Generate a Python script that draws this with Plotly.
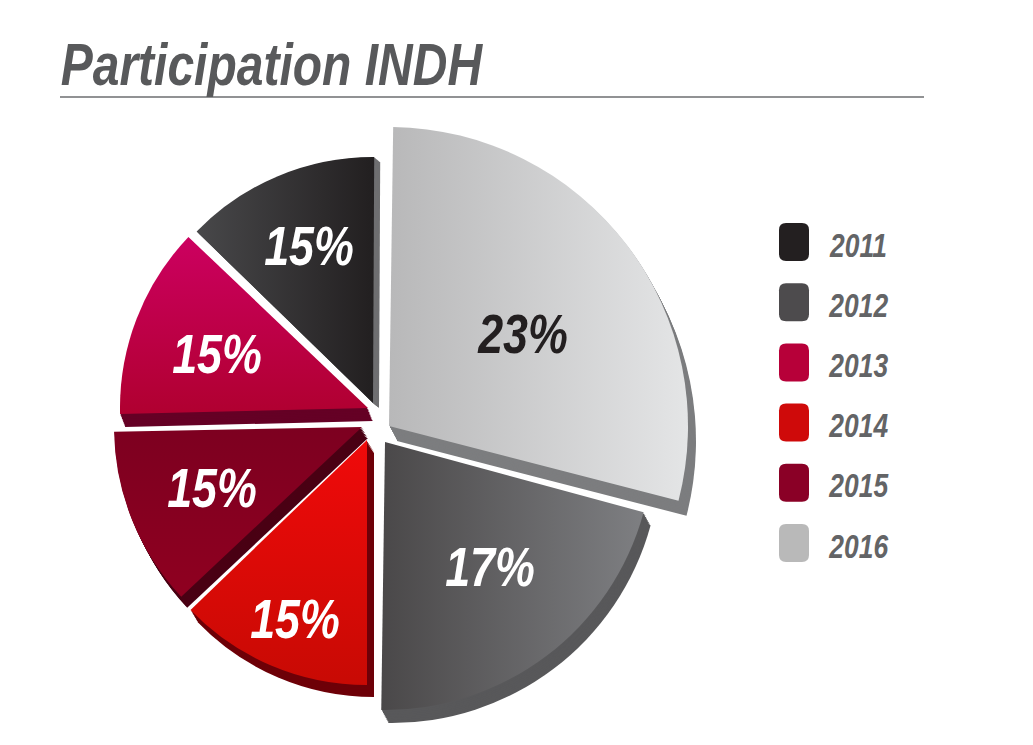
import json
import plotly.graph_objects as go

W, H = 1033, 745
FONT = "Liberation Sans"
NARROW = 0.8  # the reference type is condensed; installed fonts are not

# Data, listed clockwise from the top of the pie
years = ["2016", "2012", "2014", "2015", "2013", "2011"]
printed_percent = ["23%", "17%", "15%", "15%", "15%", "15%"]   # text printed on the slices
drawn_share = [28.8, 21.0, 12.8, 11.7, 12.5, 12.8]             # share of the circle as actually drawn

# Styling and placement, by slice
face_from = ["#b8b8b9", "#4a4849", "#f00a0a", "#7d0020", "#cc0060", "#48484a"]
face_to = ["#e4e5e6", "#7e7f82", "#c80a04", "#8f0020", "#b00030", "#221f20"]
face_dir = ["h", "h", "v", "v", "v", "h"]
side_colors = ["#7c7d7f", "#58585a", "#6e0008", "#4a0014", "#650025", "#6f6f71"]
label_colors = ["#231f20", "white", "white", "white", "white", "white"]
start_angle = [0.8, 105.2, 180.0, 226.8, 268.6, 314.2]
center_x = [389, 385, 367, 362, 368, 373]
center_y = [426, 442, 440, 427, 408, 403]
radius = [299, 268, 245, 248, 248, 246]
depth_x = [8, 7, 7, 6, 5, 6]
depth_y = [15, 13, 12, 11, 13, 5]
label_x = [522, 490, 295, 212, 217, 309]
label_y = [334, 566, 618, 487, 353, 245]

legend_years = ["2011", "2012", "2013", "2014", "2015", "2016"]
legend_colors = ["#231f20", "#4d4b4d", "#b70039", "#cf0a0a", "#8a0026", "#b9b9b9"]


def px_x(x):
    return x / W


def px_y(y):
    return 1 - y / H


def wedge(i, dx, dy, color):
    cx, cy, r = center_x[i] + dx, center_y[i] + dy, radius[i]
    return go.Pie(
        values=[drawn_share[i], 100 - drawn_share[i]],
        labels=[years[i], "rest"],
        sort=False,
        direction="clockwise",
        rotation=start_angle[i],
        textinfo="none",
        hoverinfo="skip",
        showlegend=False,
        marker=dict(colors=[color, "rgba(0,0,0,0)"], line=dict(width=0)),
        domain=dict(x=[px_x(cx - r), px_x(cx + r)], y=[px_y(cy + r), px_y(cy - r)]),
    )


fig = go.Figure()
STEPS = 8
for i in range(len(years)):
    for s in range(STEPS, 0, -1):
        fig.add_trace(wedge(i, depth_x[i] * s / STEPS, depth_y[i] * s / STEPS, side_colors[i]))
for i in range(len(years)):
    fig.add_trace(wedge(i, 0, 0, face_to[i]))


def note(x, y, text, size, color):
    return dict(x=px_x(x), y=px_y(y), xref="paper", yref="paper", xanchor="center", yanchor="middle",
                showarrow=False, text=text,
                font=dict(family=FONT, size=size, color=color, weight="bold", style="italic"))


annotations = [note(271.5, 64, "Participation INDH", 60, "#58595b")]
for i in range(len(years)):
    annotations.append(note(label_x[i], label_y[i], printed_percent[i], 56, label_colors[i]))

shapes = [dict(type="line", xref="paper", yref="paper", x0=px_x(60), x1=px_x(924),
               y0=px_y(97), y1=px_y(97), line=dict(color="#6d6e70", width=1.5))]


def rounded(x0, y0, x1, y1, c=7):
    return (f"M {px_x(x0 + c)} {px_y(y0)} L {px_x(x1 - c)} {px_y(y0)} "
            f"Q {px_x(x1)} {px_y(y0)} {px_x(x1)} {px_y(y0 + c)} L {px_x(x1)} {px_y(y1 - c)} "
            f"Q {px_x(x1)} {px_y(y1)} {px_x(x1 - c)} {px_y(y1)} L {px_x(x0 + c)} {px_y(y1)} "
            f"Q {px_x(x0)} {px_y(y1)} {px_x(x0)} {px_y(y1 - c)} L {px_x(x0)} {px_y(y0 + c)} "
            f"Q {px_x(x0)} {px_y(y0)} {px_x(x0 + c)} {px_y(y0)} Z")


for k, (yr, col) in enumerate(zip(legend_years, legend_colors)):
    top = 223 + 60.2 * k
    shapes.append(dict(type="path", xref="paper", yref="paper", path=rounded(779, top, 809, top + 38),
                       fillcolor=col, line=dict(width=0)))
    annotations.append(note(858, top + 22, yr, 33, "#636466"))

fig.update_layout(width=W, height=H, margin=dict(l=0, r=0, t=0, b=0), paper_bgcolor="white",
                  annotations=annotations, shapes=shapes)

post = """
document.body.style.margin = '0';
(function () {
  var FROM = %s, TO = %s, DIR = %s, NARROW = %s;
  function finish() {
    document.querySelectorAll('.annotation-text').forEach(function (t) {
      if (!t.dataset.w) { t.dataset.w = t.getComputedTextLength(); }
      t.setAttribute('textLength', t.dataset.w * NARROW);
      t.setAttribute('lengthAdjust', 'spacingAndGlyphs');
    });
    var svg = document.querySelector('.main-svg');
    var traces = document.querySelectorAll('.pielayer .trace');
    var defs = svg.querySelector('defs');
    var ns = 'http://www.w3.org/2000/svg';
    FROM.forEach(function (c, i) {
      var id = 'face' + i;
      if (!document.getElementById(id)) {
        var g = document.createElementNS(ns, 'linearGradient');
        g.setAttribute('id', id);
        g.setAttribute('x2', DIR[i] === 'h' ? '1' : '0');
        g.setAttribute('y2', DIR[i] === 'h' ? '0' : '1');
        [[0, c], [1, TO[i]]].forEach(function (p) {
          var st = document.createElementNS(ns, 'stop');
          st.setAttribute('offset', p[0]);
          st.setAttribute('stop-color', p[1]);
          g.appendChild(st);
        });
        defs.appendChild(g);
      }
      var tr = traces[traces.length - FROM.length + i];
      var path = tr.querySelector('.slice path.surface');
      path.style.fill = 'url(#' + id + ')';
    });
  }
  finish();
  setTimeout(finish, 50);
})();
""" % (json.dumps(face_from), json.dumps(face_to), json.dumps(face_dir), NARROW)

fig.write_html("out.html", config={"displayModeBar": False}, post_script=post)
